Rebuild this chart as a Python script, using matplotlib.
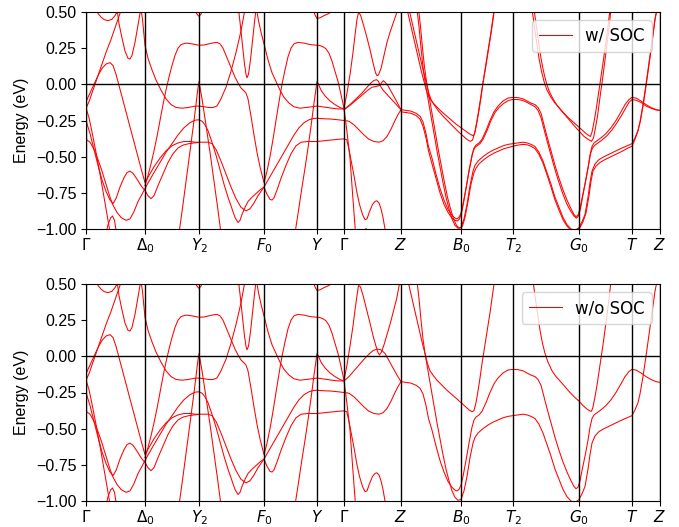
import matplotlib
matplotlib.use("Agg")
import matplotlib.pyplot as plt

# ---------------- high-symmetry path ----------------
kpath_ticks = [0, 59, 113, 178, 231, 258, 315, 375, 427, 493, 546, 574]
kpath_labels = [r"$\Gamma$", r"$\Delta_0$", r"$Y_2$", r"$F_0$", r"$Y$", r"$\Gamma$",
                r"$Z$", r"$B_0$", r"$T_2$", r"$G_0$", r"$T$", r"$Z$"]
energy_ticks = [-1.0, -0.75, -0.5, -0.25, 0.0, 0.25, 0.5]

# ---------------- bands common to both panels (k, E in eV) ----------------
band_U1 = [(10, 0.52), (12, 0.49), (15, 0.465), (18, 0.448), (22, 0.44), (26, 0.45),
           (29, 0.475), (31, 0.5), (32, 0.52)]
band_Q = [(0, -0.165), (3, -0.12), (6, -0.06), (10, 0.02), (15, 0.12), (20, 0.22),
          (25, 0.31), (30, 0.41), (35, 0.51)]
band_P = [(0, -0.12), (4, -0.06), (8, 0.0), (12, 0.06), (16, 0.11), (20, 0.14), (24, 0.15),
          (27, 0.13), (30, 0.07), (35, -0.06), (40, -0.19), (45, -0.32), (50, -0.45),
          (55, -0.58), (59, -0.68), (63, -0.63), (68, -0.57), (74, -0.51), (80, -0.46),
          (86, -0.425), (92, -0.405), (98, -0.395), (104, -0.395), (109, -0.4), (113, -0.4),
          (118, -0.4), (122, -0.4), (126, -0.41), (130, -0.45), (135, -0.53), (140, -0.62),
          (145, -0.71), (150, -0.79), (155, -0.85), (160, -0.875), (164, -0.86), (168, -0.82),
          (172, -0.77), (175, -0.74), (178, -0.71), (181, -0.76), (184, -0.795), (186, -0.8),
          (188, -0.785), (191, -0.73), (195, -0.65), (200, -0.56), (205, -0.48), (210, -0.425),
          (215, -0.4), (222, -0.395), (231, -0.395), (238, -0.39), (245, -0.385), (252, -0.38),
          (258, -0.377), (260.7, -0.383), (263, -0.45), (266, -0.56), (268.5, -0.65),
          (270.7, -0.74), (273.5, -0.83), (276.5, -0.9), (279, -0.935), (281, -0.93),
          (283.5, -0.88), (286.5, -0.83), (289, -0.81), (291, -0.805), (293, -0.82),
          (295, -0.86), (297, -0.92), (299.5, -1.02)]
band_VDc = [(31, 0.52), (33, 0.42), (36, 0.32), (39, 0.23), (42, 0.18), (44, 0.175), (46, 0.2),
            (49, 0.29), (52, 0.41), (54, 0.49), (55, 0.52), (56.5, 0.45), (58, 0.34), (59, 0.27),
            (62, 0.18), (66, 0.1), (70, 0.03), (75, -0.04), (80, -0.1), (85, -0.14), (90, -0.16),
            (96, -0.165), (102, -0.16), (108, -0.152), (113, -0.15), (118, -0.155), (123, -0.16),
            (127, -0.16), (131, -0.15), (135, -0.1), (140, -0.02), (145, 0.09), (150, 0.22),
            (155, 0.37), (159, 0.52)]
band_B1 = [(0, -0.165), (3, -0.23), (6, -0.33), (10, -0.47), (14, -0.62), (18, -0.78),
           (21, -0.9), (24, -1.02)]
band_B2 = [(20, -1.03), (22, -0.97), (24.5, -0.925), (26.5, -0.91), (28.5, -0.94), (30.5, -1.03)]
band_B3 = [(0, -0.25), (4, -0.34), (8, -0.45), (12, -0.56), (16, -0.66), (20, -0.74), (24, -0.8),
           (27, -0.825), (30, -0.79), (34, -0.71), (38, -0.645), (41, -0.61), (44, -0.6),
           (47, -0.615), (51, -0.655), (55, -0.7), (59, -0.735), (62, -0.77), (65, -0.79),
           (68, -0.77), (72, -0.7), (77, -0.62), (82, -0.54), (87, -0.48), (92, -0.44),
           (97, -0.42), (103, -0.41), (108, -0.405), (113, -0.402)]
band_B4 = [(0, -0.38), (4, -0.4), (8, -0.45), (12, -0.52), (16, -0.6), (20, -0.69), (24, -0.78),
           (27, -0.835), (31, -0.885), (35, -0.92), (40, -0.94), (44, -0.93), (48, -0.88),
           (52, -0.81), (56, -0.76), (59, -0.72), (63, -0.67), (68, -0.61), (74, -0.54),
           (80, -0.47), (86, -0.41), (92, -0.35), (98, -0.3), (104, -0.265), (109, -0.248),
           (113, -0.245), (116, -0.255), (119, -0.28), (122, -0.32), (126, -0.4), (130, -0.49),
           (134, -0.59), (138, -0.69), (142, -0.78), (146, -0.86), (149, -0.92), (152, -0.955),
           (154, -0.94), (156, -0.9), (159, -0.85), (162, -0.81), (166, -0.78), (170, -0.755),
           (174, -0.73), (178, -0.71), (183, -0.65), (188, -0.59), (193, -0.53), (198, -0.47),
           (203, -0.41), (208, -0.35), (213, -0.3), (218, -0.265), (223, -0.245), (228, -0.235),
           (231, -0.235), (238, -0.238), (245, -0.24), (252, -0.245), (258, -0.25), (263, -0.255),
           (268, -0.28), (273, -0.315), (278, -0.35), (283, -0.38), (288, -0.395), (293, -0.4),
           (297, -0.39), (301, -0.36), (305, -0.31), (309, -0.25), (312, -0.21), (315, -0.175)]
band_G = [(59, -0.7), (62, -0.63), (65, -0.55), (68, -0.46), (71, -0.36), (74, -0.25), (77, -0.14),
          (80, -0.04), (83, 0.05), (86, 0.13), (89, 0.2), (92, 0.25), (95, 0.275), (100, 0.285),
          (106, 0.28), (113, 0.27), (118, 0.272), (123, 0.28), (128, 0.288), (131, 0.29),
          (134, 0.28), (137, 0.25), (140, 0.2), (143, 0.15), (146, 0.1), (149, 0.05), (152, 0.01),
          (155, -0.025), (158, -0.045), (160, -0.06), (162, -0.1), (165, -0.22), (168, -0.35),
          (171, -0.47), (174, -0.57), (178, -0.68), (181, -0.6), (184, -0.5), (187, -0.38),
          (190, -0.25), (193, -0.12), (196, 0.0), (199, 0.1), (202, 0.19), (205, 0.25),
          (208, 0.28), (212, 0.29), (218, 0.285), (224, 0.275), (231, 0.27), (234, 0.268),
          (237, 0.26), (240, 0.245), (243, 0.215), (246, 0.16), (249, 0.09), (252, 0.02),
          (255, -0.07), (258, -0.165)]
band_Lam1 = [(93, -1.03), (97, -0.83), (101, -0.62), (105, -0.41), (108, -0.25), (110, -0.14),
             (111.5, -0.05), (113, 0.02), (114.5, -0.04), (116, -0.1), (118, -0.19), (121, -0.33),
             (124, -0.47), (128, -0.67), (132, -0.87), (135, -1.03)]
band_topY2 = [(108.5, 0.52), (111, 0.485), (113, 0.47), (115, 0.485), (117.5, 0.52)]
band_V2 = [(152.5, 0.52), (154.5, 0.4), (156.5, 0.27), (158.5, 0.14), (160, 0.07), (161, 0.045),
           (162.5, 0.07), (164.5, 0.17), (166.5, 0.3), (168.5, 0.43), (170, 0.52)]
band_Dm = [(170.5, 0.52), (172.5, 0.44), (175, 0.36), (178, 0.28), (182, 0.17), (186, 0.08),
           (190, 0.02), (194, -0.04), (198, -0.09), (203, -0.13), (208, -0.155), (214, -0.165),
           (220, -0.16), (226, -0.155), (231, -0.15), (236, -0.155), (241, -0.16), (246, -0.165),
           (252, -0.17), (258, -0.17)]
band_Lam2 = [(209, -1.03), (213, -0.85), (216, -0.71), (219, -0.58), (222, -0.44), (225, -0.29),
             (228, -0.13), (230, -0.03), (231, 0.02), (232.5, 0.0), (235, -0.04), (239, -0.08),
             (244, -0.115), (249, -0.14), (254, -0.16), (258, -0.17), (259, -0.22), (261, -0.33),
             (264, -0.51), (266.5, -0.75), (269, -0.98), (269.5, -1.03)]
band_topY = [(227, 0.52), (229, 0.48), (231, 0.455), (234, 0.46), (238, 0.475), (243, 0.49),
             (247, 0.52)]

# ---------------- w/o SOC: Gamma-Z ... Z ----------------
arch1_nosoc = [(258, -0.165), (261, -0.06), (264, 0.07), (267, 0.21), (269, 0.32), (271, 0.42),
               (272.5, 0.49), (274.5, 0.48), (277.5, 0.41), (280.7, 0.32), (284, 0.23),
               (287.3, 0.135), (290, 0.07), (292, 0.025), (293.5, 0.01), (295.5, 0.03), (298, 0.08),
               (301, 0.15), (304, 0.22), (307, 0.3), (310.7, 0.4), (314, 0.52)]
lowarch_nosoc = [(258, -0.17), (263, -0.14), (268, -0.1), (273, -0.06), (278, -0.02), (283, 0.015),
                 (287, 0.04), (291, 0.05), (295, 0.045), (299, 0.02), (303, -0.03), (307, -0.08),
                 (311, -0.13), (315, -0.175)]
zband_nosoc = [(315, -0.175), (320, -0.18), (325, -0.185), (330, -0.2), (334, -0.22), (337, -0.26),
               (340, -0.34), (342.5, -0.43), (346, -0.51), (350, -0.62), (354, -0.72), (358, -0.8),
               (362, -0.865), (366, -0.905), (369, -0.925), (371, -0.93), (373, -0.92), (375, -0.89),
               (377, -0.83), (380, -0.72), (383, -0.6), (386, -0.49), (388, -0.44), (390, -0.42),
               (393, -0.405), (396, -0.38), (400, -0.32), (404, -0.25), (408, -0.19), (412, -0.15),
               (417, -0.115), (422, -0.095), (427, -0.09), (432, -0.092), (437, -0.1), (441, -0.115),
               (445, -0.13), (449, -0.14), (452, -0.16), (455, -0.2), (458, -0.28), (461, -0.36),
               (465, -0.46), (469, -0.56), (473, -0.65), (477, -0.73), (481, -0.8), (485, -0.86),
               (488, -0.9), (490, -0.915), (492, -0.905), (494, -0.86), (496, -0.79), (499, -0.69),
               (502, -0.58), (504, -0.49), (506, -0.43), (508, -0.405), (511, -0.39), (515, -0.37),
               (520, -0.34), (525, -0.3), (530, -0.25), (535, -0.19), (539, -0.14), (543, -0.105),
               (546, -0.09), (550, -0.095), (555, -0.115), (560, -0.14), (565, -0.16), (570, -0.175),
               (574, -0.18)]
lower_nosoc = [(331, 0.52), (333, 0.4), (335, 0.25), (337, 0.12), (339, 0.02), (342, -0.1),
               (345, -0.22), (348, -0.34), (351, -0.46), (354, -0.57), (357, -0.68), (360, -0.78),
               (363, -0.86), (366, -0.93), (369, -0.975), (372, -0.995), (375, -0.99), (378, -0.93),
               (381, -0.83), (384, -0.7), (387, -0.6), (389, -0.56), (392, -0.53), (397, -0.5),
               (402, -0.475), (407, -0.455), (412, -0.44), (417, -0.425), (422, -0.415), (427, -0.41),
               (432, -0.405), (437, -0.4), (441, -0.405), (445, -0.415), (449, -0.43), (453, -0.47),
               (457, -0.53), (461, -0.61), (465, -0.69), (469, -0.78), (473, -0.85), (477, -0.92),
               (481, -0.97), (485, -1.0), (489, -1.01), (493, -0.99), (496, -0.95), (499, -0.9),
               (502, -0.78), (504, -0.68), (506, -0.6), (509, -0.55), (513, -0.52), (518, -0.5),
               (524, -0.48), (530, -0.46), (536, -0.44), (541, -0.425), (546, -0.41), (549, -0.37),
               (552, -0.32), (554, -0.26), (557, -0.14), (560, 0.0), (563, 0.15), (566, 0.3),
               (569, 0.45), (571, 0.52)]
vb0_nosoc = [(322, 0.52), (324, 0.46), (327, 0.37), (330, 0.28), (333, 0.19), (336, 0.1), (339, 0.02),
             (341.5, -0.05), (344, -0.1), (347, -0.13), (351, -0.165), (356, -0.2), (361, -0.235),
             (366, -0.265), (371, -0.295), (375, -0.32), (379, -0.345), (383, -0.37), (386, -0.383),
             (388, -0.375), (390, -0.32), (392, -0.24), (394, -0.15), (396, -0.05), (398.5, 0.06),
             (401, 0.17), (404, 0.3), (407, 0.45), (408.5, 0.52)]
vg0_nosoc = [(447, 0.52), (449, 0.42), (451, 0.32), (454, 0.18), (456.5, 0.09), (459, 0.02),
             (462, -0.04), (466, -0.1), (470, -0.14), (474, -0.17), (479, -0.21), (484, -0.25),
             (489, -0.285), (493, -0.31), (497, -0.34), (501, -0.365), (504, -0.378), (505.5, -0.38),
             (507, -0.35), (509, -0.28), (511, -0.2), (514, -0.06), (517, 0.08), (520.5, 0.26),
             (523, 0.4), (525, 0.52)]

# ---------------- w/ SOC: Gamma-Z ... Z (split pairs) ----------------
arch1_soc = [(258, -0.165), (261, -0.06), (264, 0.067), (267, 0.22), (269, 0.34), (271, 0.45),
             (272.5, 0.495), (274.5, 0.48), (277.5, 0.41), (280.7, 0.33), (284, 0.24), (287, 0.15),
             (289.5, 0.08), (291, 0.06), (292.5, 0.065), (295, 0.11), (298, 0.2), (301, 0.29),
             (304, 0.36), (307, 0.42), (310, 0.48), (312, 0.52)]
lowarch_soc_a = [(258, -0.175), (264, -0.14), (270, -0.1), (276, -0.06), (281, -0.02), (285, 0.01),
                 (288, 0.027), (290.7, 0.032), (292.5, 0.02), (294, -0.007), (297, -0.04),
                 (301, -0.07), (305, -0.1), (309, -0.13), (315, -0.175)]
lowarch_soc_b = [(258, -0.175), (264, -0.145), (270, -0.11), (276, -0.075), (281, -0.045),
                 (286, -0.02), (290, -0.015), (294, -0.007), (296, 0.015), (297.3, 0.025),
                 (299, 0.015), (302, -0.01), (306, -0.06), (310, -0.11), (315, -0.175)]
dot_soc = [(278, -1.03), (280, -0.995), (282, -1.03)]
zband_soc_b = [(315, -0.19), (320, -0.195), (325, -0.2), (330, -0.215), (334, -0.24), (337, -0.29),
               (340, -0.37), (342.5, -0.46), (346, -0.55), (350, -0.65), (354, -0.75), (358, -0.83),
               (362, -0.885), (366, -0.925), (369, -0.94), (371.5, -0.945), (373.5, -0.93),
               (375.5, -0.89), (377.5, -0.82), (380.5, -0.7), (383.5, -0.58), (386.5, -0.48),
               (388.5, -0.44), (391, -0.425), (394, -0.41), (397, -0.38), (401, -0.32), (405, -0.25),
               (409, -0.195), (413, -0.16), (418, -0.13), (423, -0.11), (427, -0.105), (432, -0.105),
               (437, -0.112), (441, -0.125), (445, -0.14), (449, -0.155), (452, -0.18), (455, -0.23),
               (458, -0.31), (461, -0.39), (465, -0.49), (469, -0.59), (473, -0.68), (477, -0.76),
               (481, -0.83), (485, -0.88), (488, -0.91), (490.5, -0.925), (492.5, -0.91),
               (494.5, -0.86), (496.5, -0.78), (499.5, -0.67), (502.5, -0.56), (504.5, -0.48),
               (506.5, -0.44), (509, -0.42), (512, -0.405), (516, -0.385), (521, -0.355),
               (526, -0.315), (531, -0.265), (536, -0.21), (540, -0.16), (543, -0.125),
               (546, -0.105), (550, -0.11), (555, -0.125), (560, -0.15), (565, -0.165),
               (570, -0.177), (574, -0.18)]
lower_soc_b = [(332.5, 0.52), (334.5, 0.4), (336.5, 0.25), (338.5, 0.12), (340.5, 0.02),
               (343.5, -0.1), (346.5, -0.22), (349.5, -0.34), (352.5, -0.46), (355.5, -0.57),
               (358.5, -0.68), (361.5, -0.78), (364.5, -0.86), (367.5, -0.93), (370.5, -0.975),
               (373.5, -0.995), (376.5, -0.98), (379, -0.92), (382, -0.81), (385, -0.69),
               (388, -0.61), (390, -0.58), (393, -0.55), (398, -0.52), (403, -0.495), (408, -0.475),
               (413, -0.46), (418, -0.445), (423, -0.435), (427, -0.428), (432, -0.42),
               (437, -0.415), (441, -0.418), (445, -0.428), (449, -0.445), (453, -0.485),
               (457, -0.545), (461, -0.625), (465, -0.71), (469, -0.8), (473, -0.87), (477, -0.935),
               (481, -0.98), (485, -1.01), (489, -1.02), (494, -0.99), (497, -0.95), (500, -0.89),
               (503, -0.77), (505, -0.67), (507, -0.6), (510, -0.565), (514, -0.54), (519, -0.52),
               (525, -0.5), (531, -0.48), (537, -0.46), (542, -0.44), (546, -0.428), (549, -0.38),
               (552, -0.32), (554.5, -0.25), (557.5, -0.13), (560.5, 0.01), (563.5, 0.16),
               (566.5, 0.31), (569, 0.45), (571, 0.52)]
vb0_soc_a = [(321, 0.52), (323, 0.46), (326, 0.37), (329, 0.28), (332, 0.19), (335, 0.1), (338, 0.02),
             (340.5, -0.045), (343, -0.09), (346, -0.12), (350, -0.15), (355, -0.185), (360, -0.215),
             (365, -0.245), (370, -0.275), (375, -0.3), (379, -0.32), (383, -0.34), (386, -0.352),
             (387.5, -0.355), (389, -0.33), (391, -0.26), (393, -0.18), (395, -0.09), (397, 0.01),
             (399.5, 0.11), (402, 0.22), (405, 0.35), (407.5, 0.47), (408.5, 0.52)]
vb0_soc_b = [(323, 0.52), (325, 0.46), (328, 0.37), (331, 0.28), (334, 0.19), (337, 0.1), (340, 0.02),
             (342.5, -0.055), (345, -0.105), (348, -0.14), (352, -0.18), (357, -0.22), (362, -0.255),
             (367, -0.29), (372, -0.325), (376, -0.35), (380, -0.375), (383, -0.39), (384.5, -0.394),
             (386.5, -0.385), (388.5, -0.34), (390.5, -0.27), (392.5, -0.19), (394.5, -0.1),
             (396.5, -0.01), (399, 0.1), (401.5, 0.21), (404.5, 0.34), (407, 0.46), (408, 0.52)]
vg0_soc_a = [(446, 0.52), (448, 0.42), (450, 0.32), (453, 0.18), (455.5, 0.09), (458, 0.02),
             (461, -0.04), (465, -0.09), (469, -0.13), (473, -0.16), (478, -0.2), (483, -0.235),
             (488, -0.265), (492, -0.29), (496, -0.315), (500, -0.34), (503, -0.355), (504.5, -0.36),
             (506, -0.33), (508, -0.26), (510, -0.18), (513, -0.04), (516, 0.1), (519.5, 0.27),
             (522, 0.4), (524, 0.52)]
vg0_soc_b = [(448, 0.52), (450, 0.42), (452, 0.32), (455, 0.18), (457.5, 0.09), (460, 0.02),
             (463, -0.045), (467, -0.1), (471, -0.145), (475, -0.18), (480, -0.22), (485, -0.26),
             (490, -0.3), (494, -0.33), (498, -0.36), (502, -0.38), (505.5, -0.394), (507.5, -0.37),
             (509.5, -0.3), (511.5, -0.22), (514, -0.09), (517, 0.06), (520.5, 0.25), (523, 0.39),
             (525, 0.52)]

shared_bands = [band_U1, band_Q, band_P, band_VDc, band_B1, band_B2, band_B3, band_B4, band_G,
                band_Lam1, band_topY2, band_V2, band_Dm, band_Lam2, band_topY]
soc_bands = shared_bands + [arch1_soc, lowarch_soc_a, lowarch_soc_b, dot_soc, zband_nosoc,
                            zband_soc_b, lower_nosoc, lower_soc_b, vb0_soc_a, vb0_soc_b,
                            vg0_soc_a, vg0_soc_b]
nosoc_bands = shared_bands + [arch1_nosoc, lowarch_nosoc, zband_nosoc, lower_nosoc, vb0_nosoc,
                              vg0_nosoc]

plt.rcParams["font.family"] = ["Liberation Sans", "DejaVu Sans"]

fig = plt.figure(figsize=(6.79, 5.27), dpi=100)
ax_top = fig.add_axes([86 / 679, 1 - 229 / 527, 574 / 679, 217 / 527])
ax_bot = fig.add_axes([86 / 679, 1 - 501 / 527, 574 / 679, 217 / 527])


def draw(ax, bands, label):
    for i, b in enumerate(bands):
        ks = [p[0] for p in b]
        es = [p[1] for p in b]
        ax.plot(ks, es, color="red", lw=0.75, zorder=2, label=label if i == 0 else None)
    for kt in kpath_ticks:
        ax.axvline(kt, color="black", lw=1.0, zorder=3)
    ax.axhline(0.0, color="black", lw=1.0, zorder=3)
    ax.set_xlim(kpath_ticks[0], kpath_ticks[-1])
    ax.set_ylim(-1.0, 0.5)
    ax.set_xticks(kpath_ticks)
    ax.set_xticklabels(kpath_labels, fontsize=11)
    ax.tick_params(axis="x", pad=2.0)
    ax.set_yticks(energy_ticks)
    ax.tick_params(axis="y", labelsize=11.5)
    ax.set_ylabel("Energy (eV)", fontsize=11.5, labelpad=5)
    ax.legend(loc="upper right", prop={"family": "DejaVu Sans", "size": 12})


draw(ax_top, soc_bands, "w/ SOC")
draw(ax_bot, nosoc_bands, "w/o SOC")

fig.savefig("out.png", dpi=100)
